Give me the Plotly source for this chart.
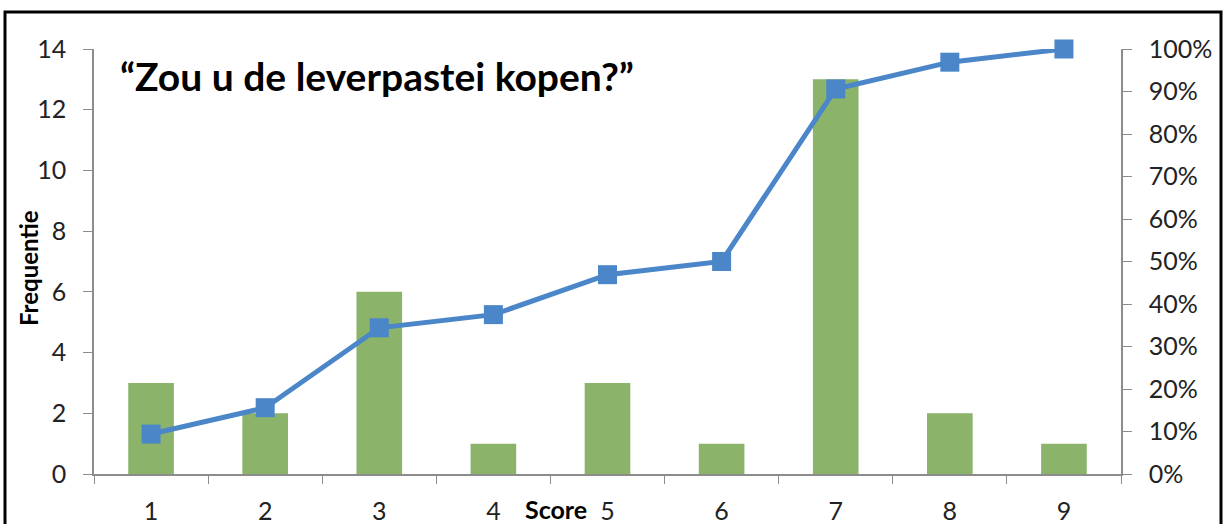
import plotly.graph_objects as go

# Data
scores = ["1", "2", "3", "4", "5", "6", "7", "8", "9"]
frequentie = [3, 2, 6, 1, 3, 1, 13, 2, 1]
cumulatief = [0.094, 0.156, 0.344, 0.375, 0.469, 0.50, 0.906, 0.969, 1.00]

C_BAR = "#8bb46a"
C_LINE = "#4a86c8"
C_AXIS = "#8c8c8c"
FONT = "Lato, Open Sans, sans-serif"

W, H = 1225, 524
M_L, M_T = 94, 49
pw, ph = 1027, 425
M_R = W - M_L - pw
M_B = H - M_T - ph


def px_x(x):
    return (x - M_L) / pw


def px_y(y):
    return (H - M_B - y) / ph


fig = go.Figure()
fig.add_trace(go.Bar(
    x=scores, y=frequentie,
    marker=dict(color=C_BAR, line=dict(width=0)),
    width=0.4,
    name="Frequentie",
))
fig.add_trace(go.Scatter(
    x=scores, y=cumulatief,
    yaxis="y2",
    mode="lines+markers",
    line=dict(color=C_LINE, width=5),
    marker=dict(symbol="square", size=19, color=C_LINE),
    cliponaxis=False,
    name="Cumulatief",
))

tickfont = dict(family=FONT, size=25, color="#222222")

fig.update_layout(
    width=W, height=H,
    margin=dict(l=M_L, r=M_R, t=M_T, b=M_B),
    paper_bgcolor="white",
    plot_bgcolor="white",
    showlegend=False,
    font=dict(family=FONT, size=25, color="#222222"),
    xaxis=dict(
        type="category",
        range=[-0.5, 8.5],
        automargin=False,
        showline=True, linecolor=C_AXIS, linewidth=1.5,
        ticks="outside", tickson="boundaries", ticklen=8, tickcolor=C_AXIS,
        ticklabelstandoff=14, tickfont=tickfont,
        showgrid=False, zeroline=False,
    ),
    yaxis=dict(
        range=[0, 14], dtick=2,
        automargin=False,
        showline=True, linecolor=C_AXIS, linewidth=1.5,
        ticks="outside", ticklen=9, tickcolor=C_AXIS,
        ticklabelstandoff=12, tickfont=tickfont,
        showgrid=False, zeroline=False,
    ),
    yaxis2=dict(
        range=[0, 1], dtick=0.1, tickformat=".0%",
        overlaying="y", side="right",
        automargin=False,
        showline=True, linecolor=C_AXIS, linewidth=1.5,
        ticks="outside", ticklen=9, tickcolor=C_AXIS,
        ticklabelstandoff=12, tickfont=tickfont,
        showgrid=False, zeroline=False,
    ),
)

# Title inside the plot
fig.add_annotation(
    text="“Zou u de leverpastei kopen?”",
    xref="paper", yref="paper",
    x=px_x(118), y=px_y(76),
    xanchor="left", yanchor="middle",
    showarrow=False,
    font=dict(family=FONT, size=39, color="black", weight="bold"),
)
fig.add_annotation(
    text="Frequentie",
    xref="paper", yref="paper",
    x=px_x(28), y=px_y(268),
    textangle=-90,
    xanchor="center", yanchor="middle",
    showarrow=False,
    font=dict(family=FONT, size=24, color="black", weight="bold"),
)
fig.add_annotation(
    text="Score",
    xref="paper", yref="paper",
    x=px_x(556), y=px_y(509),
    xanchor="center", yanchor="middle",
    showarrow=False,
    font=dict(family=FONT, size=25, color="black", weight="bold"),
)

# Outer frame (bottom edge runs off the picture)
fig.add_shape(
    type="rect", xref="paper", yref="paper",
    x0=px_x(5), x1=px_x(1221), y0=px_y(560), y1=px_y(12),
    line=dict(color="black", width=3),
)

# drop the default page margin so the figure sits at the window corner
fig.write_html(
    "out.html",
    config={"displayModeBar": False},
    post_script="document.body.style.margin='0';",
)
